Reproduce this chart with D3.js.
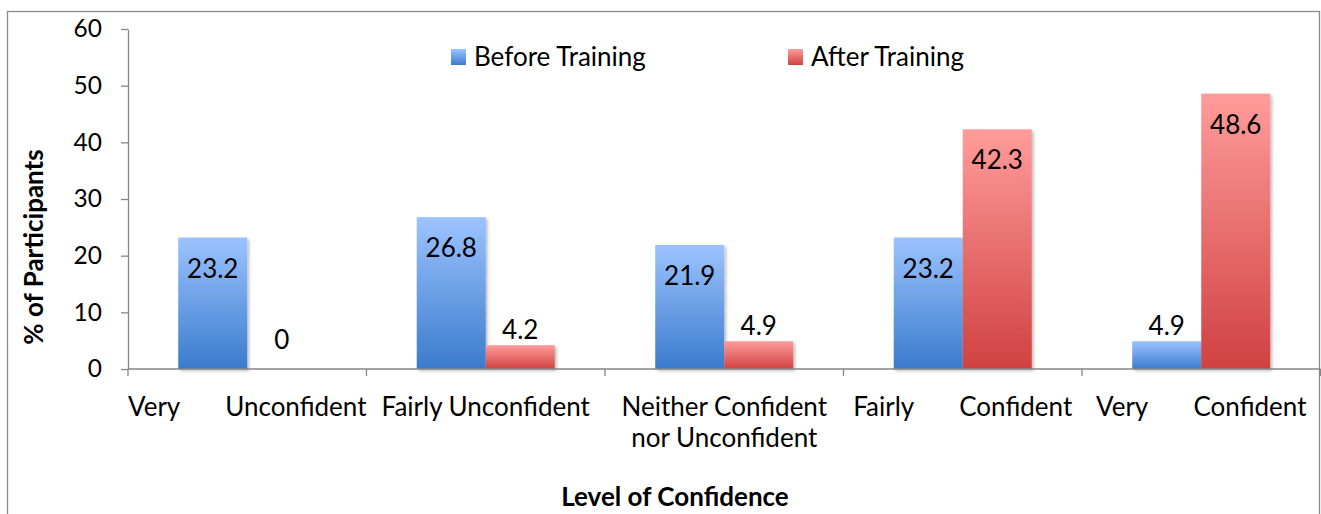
<!DOCTYPE html>
<html>
<head>
<meta charset="utf-8">
<script src="https://cdn.jsdelivr.net/npm/d3@7"></script>
<style>
  body { margin: 0; background: #fff; }
  svg { display: block; font-family: Lato, "Open Sans", sans-serif; }
</style>
</head>
<body>
<div id="chart"></div>
<script>
// chart data
const categories = ["Very Unconfident", "Fairly Unconfident", "Neither Confident nor Unconfident", "Fairly Confident", "Very Confident"];
const seriesNames = ["Before Training", "After Training"];
const beforeValues = [23.2, 26.8, 21.9, 23.2, 4.9];
const afterValues = [0, 4.2, 4.9, 42.3, 48.6];
const yTicks = [0, 10, 20, 30, 40, 50, 60];
// how each category label wraps: rows, a row with two words is spread out
const tickLabels = [
  [["Very", "Unconfident"]],
  [["Fairly Unconfident"]],
  [["Neither Confident"], ["nor Unconfident"]],
  [["Fairly", "Confident"]],
  [["Very", "Confident"]]
];

const width = 1321, height = 514;
const plot = { left: 128, right: 1320.5, top: 29, bottom: 369 };
const fontSize = 26;

const svg = d3.select("#chart").append("svg")
  .attr("width", width)
  .attr("height", height);

const defs = svg.append("defs");
const grads = [
  { id: "gBefore", top: "#9cc3ff", bottom: "#3b7bcc" },
  { id: "gAfter", top: "#ff9c9b", bottom: "#d04141" }
];
grads.forEach(g => {
  const lg = defs.append("linearGradient").attr("id", g.id)
    .attr("x1", 0).attr("y1", 0).attr("x2", 0).attr("y2", 1);
  lg.append("stop").attr("offset", "0%").attr("stop-color", g.top);
  lg.append("stop").attr("offset", "100%").attr("stop-color", g.bottom);
});
defs.append("filter").attr("id", "shadow")
  .attr("x", "-10%").attr("y", "-10%").attr("width", "130%").attr("height", "130%")
  .append("feDropShadow")
  .attr("dx", 2).attr("dy", 2).attr("stdDeviation", 1.5)
  .attr("flood-color", "#000").attr("flood-opacity", 0.25);

// outer frame (bottom edge falls below the picture)
svg.append("rect")
  .attr("x", 7.5).attr("y", 11.5)
  .attr("width", 1312).attr("height", 540)
  .attr("fill", "none").attr("stroke", "#8a8a8a").attr("stroke-width", 1.3);

const x = d3.scaleBand()
  .domain(categories)
  .range([plot.left, plot.right]);

const xSub = d3.scaleBand()
  .domain(seriesNames)
  .range([0, x.bandwidth()])
  .paddingOuter(0.728);

const y = d3.scaleLinear()
  .domain([0, 60])
  .range([plot.bottom, plot.top]);

const fills = d3.scaleOrdinal().domain(seriesNames).range(["url(#gBefore)", "url(#gAfter)"]);

const rows = [];
categories.forEach((c, i) => {
  rows.push({ cat: c, series: seriesNames[0], value: beforeValues[i] });
  rows.push({ cat: c, series: seriesNames[1], value: afterValues[i] });
});

// bars
svg.append("g")
  .selectAll("rect")
  .data(rows.filter(d => d.value > 0))
  .join("rect")
  .attr("x", d => x(d.cat) + xSub(d.series))
  .attr("y", d => y(d.value))
  .attr("width", xSub.bandwidth())
  .attr("height", d => y(0) - y(d.value))
  .attr("fill", d => fills(d.series))
  .attr("filter", "url(#shadow)");

// y axis
const yAxis = svg.append("g")
  .attr("transform", `translate(${plot.left},0)`)
  .call(d3.axisLeft(y).tickValues(yTicks).tickSize(7).tickPadding(19).tickSizeOuter(0));
yAxis.select(".domain").attr("stroke", "#868686").attr("stroke-width", 1.3);
yAxis.selectAll(".tick line").attr("stroke", "#868686").attr("stroke-width", 1.3);
yAxis.selectAll(".tick text")
  .attr("font-size", 24.5).attr("font-family", "Lato").attr("fill", "#000");

// x axis line and category ticks
const xg = svg.append("g");
xg.append("line")
  .attr("x1", plot.left).attr("x2", plot.right)
  .attr("y1", y(0)).attr("y2", y(0))
  .attr("stroke", "#868686").attr("stroke-width", 1.3);
const bounds = categories.map(c => x(c)).concat([x(categories[categories.length - 1]) + x.bandwidth()]);
xg.selectAll("line.tk")
  .data(bounds)
  .join("line")
  .attr("class", "tk")
  .attr("x1", d => d).attr("x2", d => d)
  .attr("y1", y(0)).attr("y2", y(0) + 7)
  .attr("stroke", "#868686").attr("stroke-width", 1.3);

// category labels
categories.forEach((c, i) => {
  const cx = x(c) + x.bandwidth() / 2;
  tickLabels[i].forEach((row, r) => {
    const by = 416 + r * 31;
    if (row.length === 1) {
      svg.append("text")
        .attr("x", cx).attr("y", by)
        .attr("text-anchor", "middle")
        .attr("font-size", fontSize)
        .text(row[0]);
    } else {
      const a = svg.append("text").attr("y", by).attr("font-size", fontSize).attr("text-anchor", "start").text(row[0]);
      const b = svg.append("text").attr("y", by).attr("font-size", fontSize).attr("text-anchor", "end").text(row[1]);
      const words = a.node().getComputedTextLength() + b.node().getComputedTextLength();
      const span = Math.min(x.bandwidth(), Math.max(x.bandwidth() - 28, words + 45));
      a.attr("x", cx - span / 2);
      b.attr("x", cx + span / 2);
    }
  });
});

// value labels
svg.append("g")
  .selectAll("text")
  .data(rows)
  .join("text")
  .attr("x", d => x(d.cat) + xSub(d.series) + xSub.bandwidth() / 2)
  .attr("y", d => {
    const top = y(d.value);
    if (y(0) - top > 45) return top + 40;
    return Math.min(top - 6, y(0) - 20);
  })
  .attr("text-anchor", "middle")
  .attr("font-size", 26)
  .attr("fill", "#000")
  .text(d => d.value);

// legend
const legendX = [451, 788];
const legend = svg.append("g");
seriesNames.forEach((s, i) => {
  legend.append("rect")
    .attr("x", legendX[i]).attr("y", 49)
    .attr("width", 15).attr("height", 16)
    .attr("fill", fills(s));
  legend.append("text")
    .attr("x", legendX[i] + 23).attr("y", 66)
    .attr("font-size", fontSize)
    .text(s);
});

// axis titles
svg.append("text")
  .attr("transform", "translate(43,247) rotate(-90)")
  .attr("text-anchor", "middle")
  .attr("font-size", fontSize)
  .attr("font-weight", "bold")
  .text("% of Participants");

svg.append("text")
  .attr("x", 675).attr("y", 506)
  .attr("text-anchor", "middle")
  .attr("font-size", fontSize)
  .attr("font-weight", "bold")
  .text("Level of Confidence");
</script>
</body>
</html>
